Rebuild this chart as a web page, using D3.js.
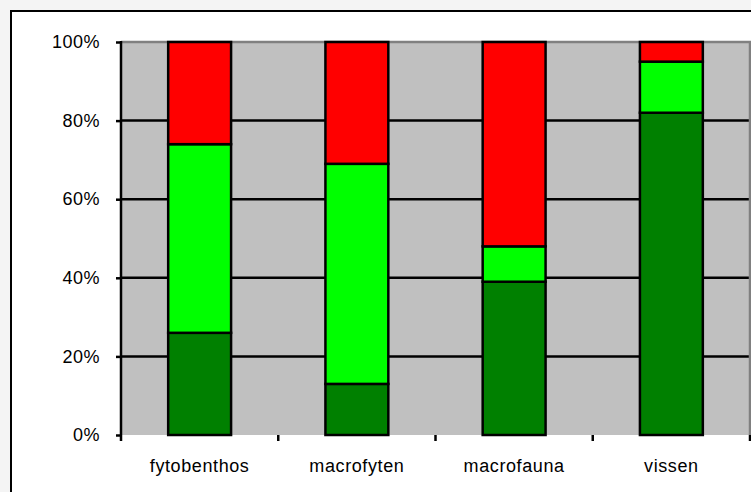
<!DOCTYPE html>
<html>
<head>
<meta charset="utf-8">
<script src="https://cdn.jsdelivr.net/npm/d3@7"></script>
<style>
  html, body { margin: 0; padding: 0; background: #f4f4f4; }
  svg { display: block; }
</style>
</head>
<body>
<svg id="chart" width="751" height="492"></svg>
<script>
// Share (%) of each status class per quality element
const categories = ["fytobenthos", "macrofyten", "macrofauna", "vissen"];
const darkGreen  = [26, 13, 39, 82];
const lightGreen = [48, 56, 9, 13];
const red        = [26, 31, 52, 5];
const yTicks = [0, 20, 40, 60, 80, 100];
const yTickLabels = ["0%", "20%", "40%", "60%", "80%", "100%"];

const seriesKeys = ["darkGreen", "lightGreen", "red"];
const seriesColors = { darkGreen: "#008000", lightGreen: "#00ff00", red: "#ff0000" };

const rows = categories.map((c, i) => ({
  category: c,
  darkGreen: darkGreen[i],
  lightGreen: lightGreen[i],
  red: red[i]
}));

const svg = d3.select("#chart");
const plot = { left: 121, top: 42, right: 750, bottom: 435 };
const fontFamily = "Liberation Sans, Arial, sans-serif";

// Chart frame
svg.append("rect")
  .attr("x", 11).attr("y", 11)
  .attr("width", 800).attr("height", 500)
  .attr("fill", "#ffffff")
  .attr("stroke", "#000").attr("stroke-width", 2);

const x = d3.scaleBand()
  .domain(categories)
  .range([plot.left, plot.right])
  .paddingInner(0.6)
  .paddingOuter(0.3);

const y = d3.scaleLinear()
  .domain([0, 100])
  .range([plot.bottom, plot.top]);

// Plot area
svg.append("rect")
  .attr("x", plot.left).attr("y", plot.top)
  .attr("width", plot.right - plot.left)
  .attr("height", plot.bottom - plot.top)
  .attr("fill", "#c0c0c0");

// Gridlines
svg.append("g")
  .selectAll("line")
  .data(yTicks.filter(t => t > 0 && t < 100))
  .join("line")
  .attr("x1", plot.left).attr("x2", plot.right)
  .attr("y1", d => y(d)).attr("y2", d => y(d))
  .attr("stroke", "#000").attr("stroke-width", 2.5);

// Plot area border (top and right)
svg.append("path")
  .attr("d", `M${plot.left},${y(100)}H${plot.right}V${plot.bottom}`)
  .attr("fill", "none")
  .attr("stroke", "#808080").attr("stroke-width", 2.5);

// Stacked bars
const stacked = d3.stack().keys(seriesKeys)(rows);

svg.append("g")
  .selectAll("g")
  .data(stacked)
  .join("g")
  .attr("fill", d => seriesColors[d.key])
  .selectAll("rect")
  .data(d => d)
  .join("rect")
  .attr("x", d => x(d.data.category))
  .attr("width", x.bandwidth())
  .attr("y", d => y(d[1]))
  .attr("height", d => y(d[0]) - y(d[1]))
  .attr("stroke", "#000")
  .attr("stroke-width", 2.5);

// Y axis
const yAxis = d3.axisLeft(y)
  .tickValues(yTicks)
  .tickFormat((d, i) => yTickLabels[i])
  .tickSize(5)
  .tickPadding(16);

const gy = svg.append("g")
  .attr("transform", `translate(${plot.left},0)`)
  .call(yAxis);
gy.select(".domain").remove();
gy.selectAll(".tick line").attr("stroke", "#000").attr("stroke-width", 2.5);
gy.selectAll(".tick text")
  .attr("font-family", fontFamily)
  .attr("font-size", 18)
  .attr("letter-spacing", 0.5)
  .attr("fill", "#000");
svg.append("line")
  .attr("x1", plot.left).attr("x2", plot.left)
  .attr("y1", plot.top - 1).attr("y2", plot.bottom + 6)
  .attr("stroke", "#000").attr("stroke-width", 2.5);

// X axis: category boundary ticks and labels
const boundaries = d3.range(categories.length + 1)
  .map(i => plot.left + i * x.step());
svg.append("g")
  .selectAll("line")
  .data(boundaries.slice(1))
  .join("line")
  .attr("x1", d => d).attr("x2", d => d)
  .attr("y1", plot.bottom).attr("y2", plot.bottom + 6)
  .attr("stroke", "#000").attr("stroke-width", 2.5);

svg.append("g")
  .selectAll("text")
  .data(categories)
  .join("text")
  .attr("x", d => x(d) + x.bandwidth() / 2)
  .attr("y", 472)
  .attr("text-anchor", "middle")
  .attr("font-family", fontFamily)
  .attr("font-size", 18)
  .attr("letter-spacing", 0.6)
  .attr("fill", "#000")
  .text(d => d);
</script>
</body>
</html>
